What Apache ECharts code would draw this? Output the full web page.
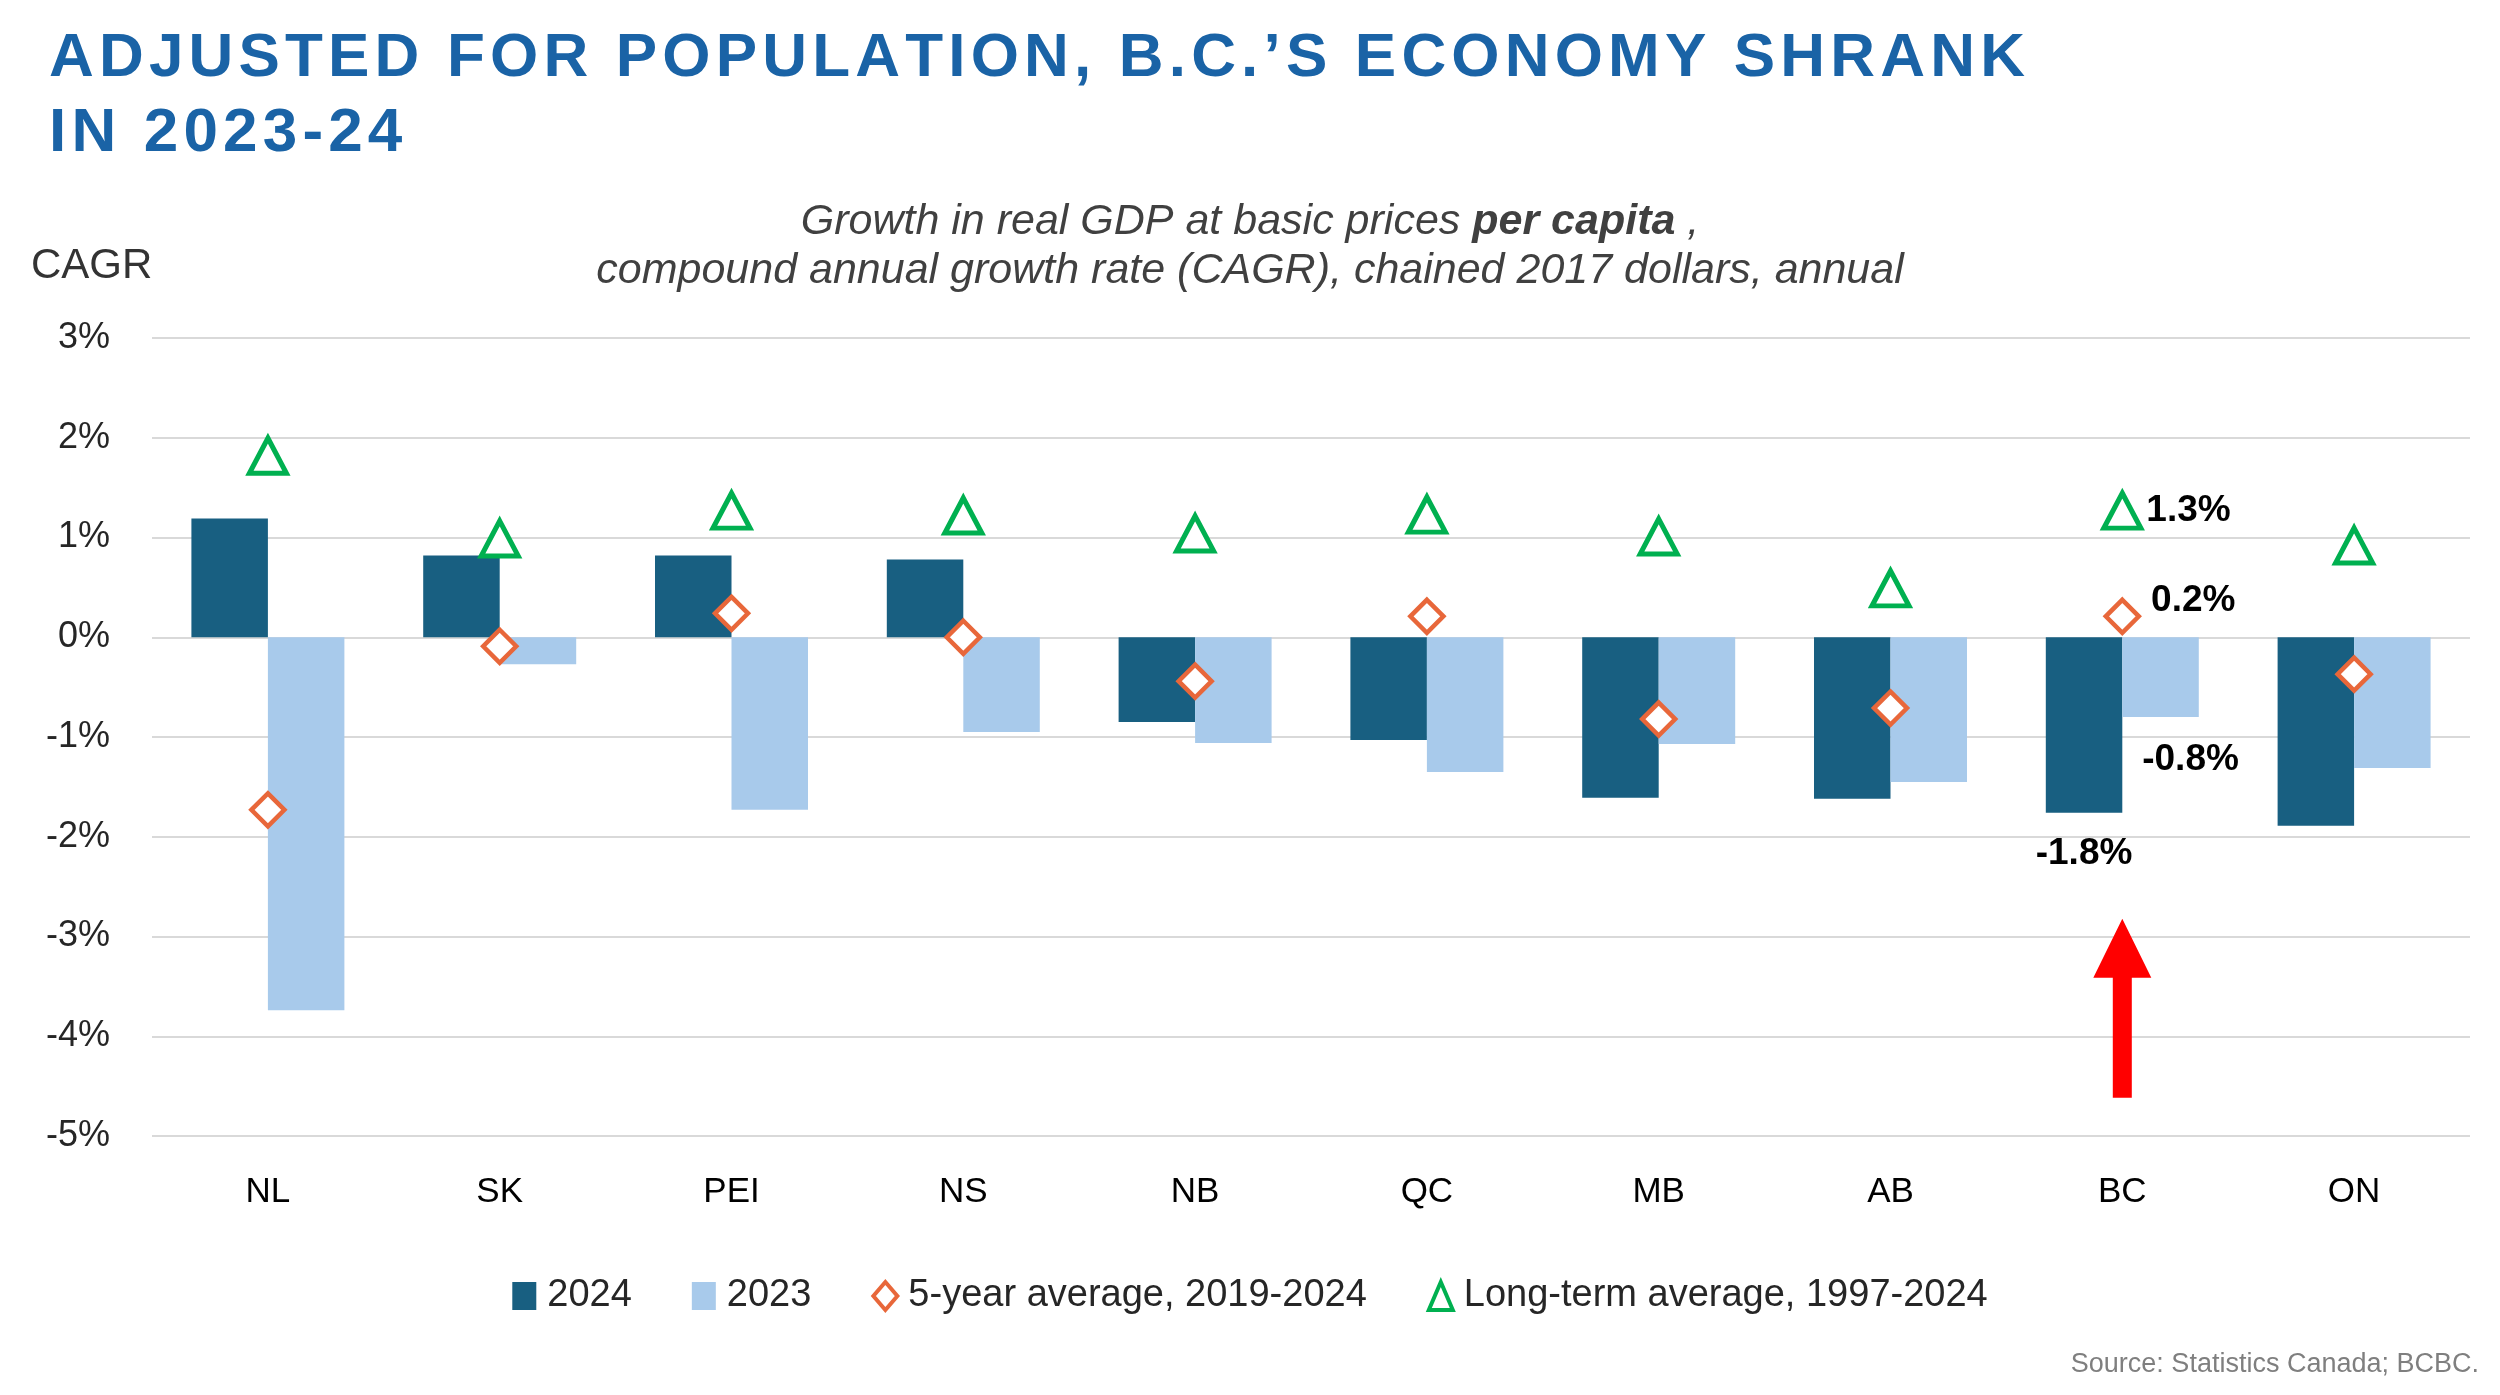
<!DOCTYPE html>
<html>
<head>
<meta charset="utf-8">
<script src="https://cdn.jsdelivr.net/npm/echarts@6/dist/echarts.min.js"></script>
<style>
html, body { margin: 0; padding: 0; background: #fff; }
#main { width: 2500px; height: 1395px; }
</style>
</head>
<body>
<div id="main"></div>
<script>
// provinces, left to right
const provinces = ['NL', 'SK', 'PEI', 'NS', 'NB', 'QC', 'MB', 'AB', 'BC', 'ON'];
// real GDP per capita growth, %
const growth2024 = [1.19, 0.82, 0.82, 0.78, -0.85, -1.03, -1.61, -1.62, -1.76, -1.89];
const growth2023 = [-3.74, -0.27, -1.73, -0.95, -1.06, -1.35, -1.07, -1.45, -0.80, -1.31];
const avg5yr = [-1.73, -0.09, 0.24, 0.0, -0.44, 0.21, -0.82, -0.71, 0.21, -0.37];
const avgLongTerm = [1.82, 0.99, 1.27, 1.22, 1.04, 1.23, 1.01, 0.49, 1.27, 0.92];
const seriesNames = ['2024', '2023', '5-year average, 2019-2024', 'Long-term average, 1997-2024'];
const focus = 'BC';

const FONT = '"Liberation Sans", Arial, sans-serif';
const spaced = s => s.split('').join('\u200A');

// only the highlighted province gets a value label
function withLabel(vals, label) {
  return vals.map((v, i) => provinces[i] === focus ? { value: v, label: Object.assign({ show: true }, label) } : v);
}
const valueLabel = {
  show: false,
  fontFamily: FONT,
  fontSize: 37,
  fontWeight: 'bold',
  color: '#000',
  formatter: p => p.value.toFixed(1) + '%'
};

const chart = echarts.init(document.getElementById('main'));
chart.setOption({
  animation: false,
  backgroundColor: '#fff',
  title: [
    {
      text: spaced('ADJUSTED FOR POPULATION, B.C.’S ECONOMY SHRANK') + '\n' + spaced('IN 2023-24'),
      left: 44, top: 16,
      textStyle: { fontFamily: FONT, fontSize: 62, fontWeight: 'bold', color: '#1A63A6', lineHeight: 75 }
    },
    {
      text: '{i|Growth in real GDP at basic prices }{b|per capita}{i| ,}\n{i|compound annual growth rate (CAGR), chained 2017 dollars, annual}',
      left: 'center', top: 193,
      textStyle: {
        fontWeight: 'normal',
        rich: {
          i: { fontFamily: FONT, fontSize: 43, fontStyle: 'italic', fontWeight: 'normal', color: '#404040', lineHeight: 49 },
          b: { fontFamily: FONT, fontSize: 43, fontStyle: 'italic', fontWeight: 'bold', color: '#404040', lineHeight: 49 }
        }
      }
    },
    {
      text: 'CAGR', left: 26, top: 240,
      textStyle: { fontFamily: FONT, fontSize: 42, fontWeight: 'normal', color: '#333', lineHeight: 42 }
    },
    {
      text: 'Source: Statistics Canada; BCBC.', right: 16, top: 1346,
      textStyle: { fontFamily: FONT, fontSize: 27, fontWeight: 'normal', color: '#7F7F7F', lineHeight: 28 }
    }
  ],
  legend: {
    data: [
      { name: seriesNames[0], icon: 'rect' },
      { name: seriesNames[1], icon: 'rect' },
      { name: seriesNames[2], itemStyle: { borderWidth: 4 } },
      { name: seriesNames[3], itemStyle: { borderWidth: 4 } }
    ],
    left: 'center', top: 1272,
    itemWidth: 24, itemHeight: 28, itemGap: 60,
    textStyle: { fontFamily: FONT, fontSize: 38, color: '#262626', padding: [0, 0, 0, 6] }
  },
  grid: { left: 152, right: 30, top: 338, bottom: 259, containLabel: false, outerBoundsMode: 'none' },
  xAxis: {
    type: 'category',
    data: provinces,
    axisLine: { show: false, onZero: false },
    axisTick: { show: false },
    axisLabel: { fontFamily: FONT, fontSize: 35, color: '#000', margin: 39 },
    splitLine: { show: false }
  },
  yAxis: {
    type: 'value',
    min: -5, max: 3, interval: 1,
    axisLine: { show: false },
    axisTick: { show: false },
    axisLabel: { fontFamily: FONT, fontSize: 36, color: '#262626', margin: 42, formatter: '{value}%' },
    splitLine: { lineStyle: { color: '#D9D9D9', width: 2 } }
  },
  series: [
    {
      name: seriesNames[0], type: 'bar',
      barWidth: '33%', barGap: '0%',
      itemStyle: { color: '#185F81' },
      label: valueLabel,
      emphasis: { disabled: true },
      data: withLabel(growth2024, { position: 'outside', distance: 22 })
    },
    {
      name: seriesNames[1], type: 'bar',
      barWidth: '33%', barGap: '0%',
      itemStyle: { color: '#A8CAEB' },
      label: valueLabel,
      emphasis: { disabled: true },
      data: withLabel(growth2023, { position: 'outside', distance: 24, offset: [30, 0] })
    },
    {
      name: seriesNames[2], type: 'scatter',
      symbol: 'diamond', symbolSize: [33, 33],
      itemStyle: { color: '#fff', borderColor: '#E8673A', borderWidth: 4.5, opacity: 1 },
      label: valueLabel,
      emphasis: { disabled: true },
      z: 5,
      data: withLabel(avg5yr, { position: 'right', distance: 10, offset: [0, -16] })
    },
    {
      name: seriesNames[3], type: 'scatter',
      symbol: 'triangle', symbolSize: [37, 35],
      itemStyle: { color: '#fff', borderColor: '#00B050', borderWidth: 5, opacity: 1 },
      label: valueLabel,
      emphasis: { disabled: true },
      z: 5,
      data: withLabel(avgLongTerm, { position: 'right', distance: 3 }),
      markPoint: {
        silent: true,
        symbol: 'path://M29,0 L58,59 L38.5,59 L38.5,179 L19.5,179 L19.5,59 L0,59 Z',
        symbolSize: [58, 179],
        symbolKeepAspect: false,
        itemStyle: { color: '#FF0000', borderWidth: 0 },
        label: { show: false },
        data: [{ coord: [focus, -3.72] }]
      }
    }
  ]
});
</script>
</body>
</html>
